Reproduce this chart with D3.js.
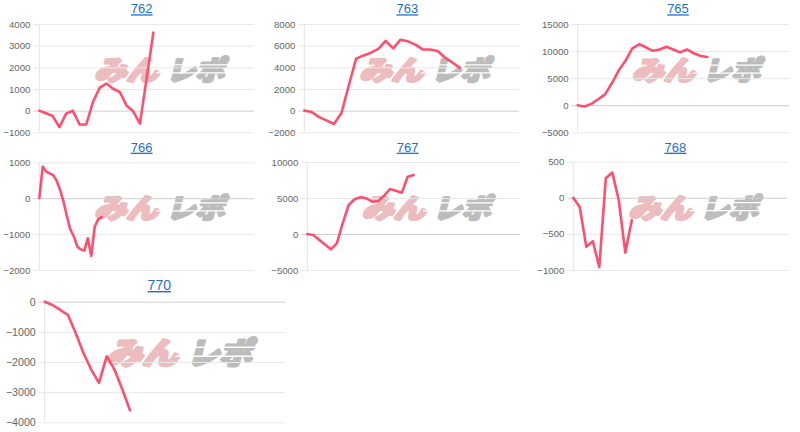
<!DOCTYPE html>
<html>
<head>
<meta charset="utf-8">
<script src="https://cdn.jsdelivr.net/npm/d3@7"></script>
<style>
  html, body { margin: 0; padding: 0; background: #fff; }
  svg { display: block; }
</style>
</head>
<body>
<svg id="chart" width="800" height="432"></svg>
<script>
// ---------------- data ----------------
const titles = ["762", "763", "765", "766", "767", "768", "770"];
const slotCounts = [33, 30, 32, 63, 37, 34, 32];

const ticks762 = [-1000, 0, 1000, 2000, 3000, 4000];
const ticks763 = [-2000, 0, 2000, 4000, 6000, 8000];
const ticks765 = [-5000, 0, 5000, 10000, 15000];
const ticks766 = [-2000, -1000, 0, 1000];
const ticks767 = [-5000, 0, 5000, 10000];
const ticks768 = [-1000, -500, 0, 500];
const ticks770 = [-4000, -3000, -2000, -1000, 0];

const values762 = [0, -120, -250, -760, -140, 0, -640, -640, 400, 1060, 1250, 1010, 860, 240, -30, -600, 1500, 3610];
const values763 = [0, -120, -600, -900, -1230, -250, 2300, 4800, 5100, 5350, 5700, 6450, 5750, 6550, 6400, 6100, 5650, 5650, 5500, 4900, 4450, 3950];
const values765 = [0, -250, 250, 1100, 2000, 4050, 6400, 8200, 10500, 11250, 10700, 10050, 10300, 10800, 10300, 9750, 10300, 9600, 9100, 8900];
const values766 = [0, 880, 740, 690, 645, 490, 230, -95, -515, -885, -1070, -1350, -1425, -1460, -1115, -1610, -795, -590, -530];
const values767 = [0, -140, -790, -1450, -2130, -1300, 1500, 4030, 4820, 5100, 4950, 4490, 4580, 5320, 6250, 6020, 5740, 7960, 8190];
const values768 = [0, -130, -680, -600, -960, 270, 350, -30, -760, -310];
const values770 = [0, -110, -270, -440, -1040, -1700, -2250, -2690, -1810, -2250, -2900, -3600];

const tickSets = [ticks762, ticks763, ticks765, ticks766, ticks767, ticks768, ticks770];
const seriesSets = [values762, values763, values765, values766, values767, values768, values770];

// ---------------- layout ----------------
const layout = [
  { L: 39.3,  R: 254,   T: 24,    B: 132.3, tx: 141.7, ty: 13.3,  fs: 9.6 },
  { L: 304.3, R: 519,   T: 24,    B: 132.3, tx: 407.3, ty: 13.3,  fs: 9.6 },
  { L: 577.7, R: 789.3, T: 24,    B: 132.3, tx: 678,   ty: 13.3,  fs: 9.6 },
  { L: 39.3,  R: 254,   T: 162.3, B: 270,   tx: 141.7, ty: 151.7, fs: 9.6 },
  { L: 307.3, R: 520,   T: 162,   B: 270,   tx: 407.7, ty: 151.7, fs: 9.6 },
  { L: 573.3, R: 787.7, T: 161.7, B: 270,   tx: 675.3, ty: 151.7, fs: 9.6 },
  { L: 44.7,  R: 285,   T: 301.7, B: 422.3, tx: 159.3, ty: 290,   fs: 10.6 }
];

const svg = d3.select("#chart");
const LINE = "#ff4f6d";

titles.forEach((title, k) => {
  const p = layout[k];
  const W = p.R - p.L, H = p.B - p.T;
  const ticks = tickSets[k];
  const vals = seriesSets[k];
  const g = svg.append("g");

  const x = d3.scaleLinear().domain([0, slotCounts[k] - 1]).range([p.L, p.R]);
  const y = d3.scaleLinear().domain(d3.extent(ticks)).range([p.B, p.T]);

  // watermark
  const s = W / 214.7;
  const wm = g.append("g")
    .attr("transform", `translate(${p.L + 0.227 * W},${p.T + 0.535 * H}) scale(${s})`);
  const wmText = wm.append("g").attr("transform", "skewX(-14)");
  wmText.append("text").text("みん")
    .attr("x", 6).attr("y", -2)
    .attr("font-family", "Noto Sans CJK JP")
    .attr("font-weight", 700).attr("font-size", 27)
    .attr("textLength", 64).attr("lengthAdjust", "spacingAndGlyphs")
    .attr("fill", "#ecbcbe").attr("stroke", "#ecbcbe")
    .attr("stroke-width", 3.2).attr("stroke-linejoin", "round");
  wmText.append("text").text("レポ")
    .attr("x", 78).attr("y", -2)
    .attr("font-family", "Noto Sans CJK JP")
    .attr("font-weight", 700).attr("font-size", 27)
    .attr("textLength", 58).attr("lengthAdjust", "spacingAndGlyphs")
    .attr("fill", "#bcbcbc").attr("stroke", "#bcbcbc")
    .attr("stroke-width", 3.2).attr("stroke-linejoin", "round");
  [-17, -9].forEach(yy => {
    wm.append("line").attr("x1", 68).attr("x2", 142).attr("y1", yy).attr("y2", yy)
      .attr("stroke", "#fff").attr("stroke-width", 1.3);
  });

  // y axis with grid
  const axis = d3.axisLeft(y).tickValues(ticks).tickSize(-(W + 6)).tickPadding(3)
    .tickFormat(d3.format("d"));
  const ag = g.append("g").attr("transform", `translate(${p.L - 6},0)`).call(axis);
  ag.select(".domain").remove();
  ag.selectAll(".tick line")
    .attr("stroke", d => d === 0 ? "#cfcfcf" : "#e8e8e8")
    .attr("stroke-width", 1);
  ag.selectAll(".tick text")
    .attr("fill", "#666")
    .attr("font-family", "Liberation Sans, Arial, sans-serif")
    .attr("font-size", p.fs);

  // vertical axis line
  g.append("line")
    .attr("x1", p.L).attr("x2", p.L).attr("y1", p.T).attr("y2", p.B)
    .attr("stroke", "#e3e3e3");

  // series line
  const line = d3.line().x((d, i) => x(i)).y(d => y(d));
  g.append("path").datum(vals)
    .attr("d", line)
    .attr("fill", "none")
    .attr("stroke", LINE)
    .attr("stroke-width", 2.6)
    .attr("stroke-linejoin", "round")
    .attr("stroke-linecap", "round");

  // title
  g.append("text").text(title)
    .attr("x", p.tx).attr("y", p.ty)
    .attr("text-anchor", "middle")
    .attr("font-family", "Liberation Sans, Arial, sans-serif")
    .attr("font-size", k === 6 ? 14 : 13)
    .attr("fill", "#1f6fd0")
    .attr("text-decoration", "underline");
});
</script>
</body>
</html>
